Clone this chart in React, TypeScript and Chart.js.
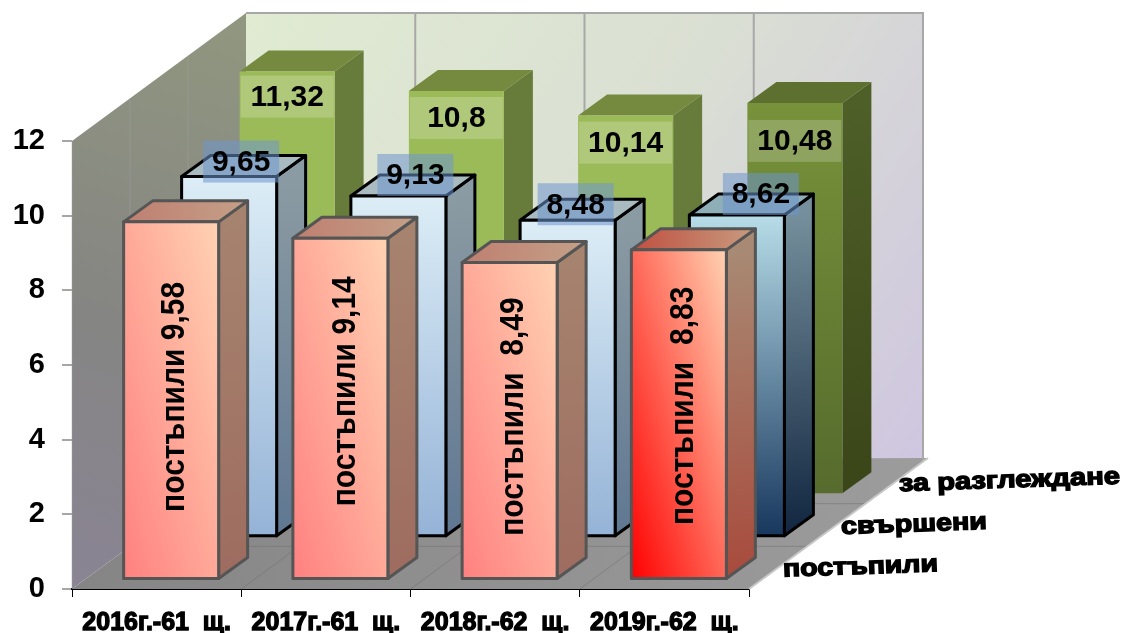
import React, { useEffect, useRef } from "react";
import { Chart, registerables } from "chart.js";

Chart.register(...registerables);

const categories = ["2016г.-61  щ.", "2017г.-61  щ.", "2018г.-62  щ.", "2019г.-62  щ."];
const seriesNames = ["постъпили", "свършени", "за разглеждане"];
const received = [9.58, 9.14, 8.49, 8.83];
const completed = [9.65, 9.13, 8.48, 8.62];
const underReview = [11.32, 10.8, 10.14, 10.48];

// projection of the depth axis on the picture (px for the full floor depth)
const FLOOR_DX = 174;
const FLOOR_DY = -128;
const BAR_DX = 29;
const BAR_DY = -21;
const LEAD_DX = 14.5;
const LEAD_DY = -9.5;
const FONT = '"Liberation Sans", Arial, sans-serif';

type Stops = [string, string];
type BarLook = { front: Stops; side: Stops; top: Stops; diagonal: boolean; stroke: string; lw: number };

const receivedLook: BarLook = { front: ["#ff8080", "#ffd2b2"], side: ["#a6836e", "#9e6c60"], top: ["#bf7f70", "#c4a088"], diagonal: true, stroke: "#555555", lw: 3 };
const receivedLast: BarLook = { front: ["#ff0000", "#ffd2b2"], side: ["#a88a74", "#a84a3c"], top: ["#c04f40", "#c89c80"], diagonal: true, stroke: "#555555", lw: 3 };
const completedLook: BarLook = { front: ["#dcedf6", "#95b3d7"], side: ["#8b9ba3", "#5f7792"], top: ["#a9bac0", "#a9bac0"], diagonal: false, stroke: "#000000", lw: 3 };
const completedLast: BarLook = { front: ["#b7dde8", "#17375d"], side: ["#758f9c", "#10253f"], top: ["#8eaeb8", "#8eaeb8"], diagonal: false, stroke: "#000000", lw: 3 };
const reviewLook: BarLook = { front: ["#9bbb59", "#9bbb59"], side: ["#677b3a", "#677b3a"], top: ["#75893f", "#75893f"], diagonal: false, stroke: "", lw: 0 };
const reviewLast: BarLook = { front: ["#77923a", "#566b2d"], side: ["#4e5f28", "#3a4518"], top: ["#5e7030", "#5e7030"], diagonal: false, stroke: "", lw: 0 };

const looks = [
  [receivedLook, receivedLook, receivedLook, receivedLast],
  [completedLook, completedLook, completedLook, completedLast],
  [reviewLook, reviewLook, reviewLook, reviewLast],
];
// label offsets from the bar's centre / top, as placed by hand in the source
const receivedLabelOff = [[4, 175], [5, 153], [4, 154], [5, 156]];
const completedLabelOff = [[12, -15], [17, -21], [8, -16], [24, -21]];
const reviewLabelOff = [[0, 25], [0, 27], [0, 27], [0, 38]];
const receivedSpacing = ["", "", " ", " "];

const fmt = (v: number) => String(v).replace(".", ",");

function poly(ctx: CanvasRenderingContext2D, pts: number[][], fill: any) {
  ctx.beginPath();
  pts.forEach((p, i) => (i ? ctx.lineTo(p[0], p[1]) : ctx.moveTo(p[0], p[1])));
  ctx.closePath();
  ctx.fillStyle = fill;
  ctx.fill();
}

function drawBox(ctx: CanvasRenderingContext2D, x0: number, x1: number, top: number, base: number, look: BarLook) {
  const w = x1 - x0;
  const h = base - top;
  let fg;
  if (look.diagonal) {
    const L = Math.hypot(w, h);
    const t = (2 * w * h) / L;
    fg = ctx.createLinearGradient(x0, base, x0 + (h / L) * t, base - (w / L) * t);
  } else {
    fg = ctx.createLinearGradient(0, top, 0, base);
  }
  fg.addColorStop(0, look.front[0]);
  fg.addColorStop(1, look.front[1]);
  const sg = ctx.createLinearGradient(x1, top, x1 + BAR_DX, base);
  sg.addColorStop(0, look.side[0]);
  sg.addColorStop(1, look.side[1]);
  const tg = ctx.createLinearGradient(x0, top, x1 + BAR_DX, top);
  tg.addColorStop(0, look.top[0]);
  tg.addColorStop(1, look.top[1]);
  const frontPts = [[x0, top], [x1, top], [x1, base], [x0, base]];
  const sidePts = [[x1, top], [x1 + BAR_DX, top + BAR_DY], [x1 + BAR_DX, base + BAR_DY], [x1, base]];
  const topPts = [[x0, top], [x0 + BAR_DX, top + BAR_DY], [x1 + BAR_DX, top + BAR_DY], [x1, top]];
  [[sidePts, sg], [topPts, tg], [frontPts, fg]].forEach(([pts, fill]: any) => {
    poly(ctx, pts, fill);
    if (look.lw) {
      ctx.strokeStyle = look.stroke;
      ctx.lineWidth = look.lw;
      ctx.lineJoin = "round";
      ctx.stroke();
    }
  });
}

const walls3d = {
  id: "walls3d",
  beforeDatasetsDraw(chart: any) {
    const { ctx, scales } = chart;
    const xs = scales.x;
    const ys = scales.y;
    const l = xs.left;
    const r = xs.right;
    const y0 = ys.getPixelForValue(0);
    const yT = ys.getPixelForValue(12);
    ctx.save();
    // left wall
    const lg = ctx.createLinearGradient(l + FLOOR_DX, yT + FLOOR_DY, l, y0);
    lg.addColorStop(0, "#91977f");
    lg.addColorStop(0.55, "#858583");
    lg.addColorStop(1, "#8a8494");
    poly(ctx, [[l, yT], [l + FLOOR_DX, yT + FLOOR_DY], [l + FLOOR_DX, y0 + FLOOR_DY], [l, y0]], lg);
    // back wall
    const bg = ctx.createLinearGradient(l + FLOOR_DX, yT + FLOOR_DY, r + FLOOR_DX, y0 + FLOOR_DY);
    bg.addColorStop(0, "#e0ebd2");
    bg.addColorStop(0.5, "#dadfd3");
    bg.addColorStop(1, "#cfc6e0");
    poly(ctx, [[l + FLOOR_DX, yT + FLOOR_DY], [r + FLOOR_DX, yT + FLOOR_DY], [r + FLOOR_DX, y0 + FLOOR_DY], [l + FLOOR_DX, y0 + FLOOR_DY]], bg);
    // floor
    const fg = ctx.createLinearGradient(l, 0, r + FLOOR_DX, 0);
    fg.addColorStop(0, "#858585");
    fg.addColorStop(1, "#9c9c9c");
    poly(ctx, [[l, y0], [r, y0], [r + FLOOR_DX + 5, y0 + FLOOR_DY - 3], [l + FLOOR_DX, y0 + FLOOR_DY]], fg);

    const n = categories.length;
    const cell = (r - l) / n;
    ctx.lineWidth = 2;
    // back wall edges and verticals
    ctx.strokeStyle = "#a8a8a8";
    ctx.beginPath();
    ctx.moveTo(l + FLOOR_DX, yT + FLOOR_DY);
    ctx.lineTo(r + FLOOR_DX, yT + FLOOR_DY);
    ctx.lineTo(r + FLOOR_DX, y0 + FLOOR_DY);
    for (let i = 1; i < n; i++) {
      ctx.moveTo(l + FLOOR_DX + cell * i, yT + FLOOR_DY);
      ctx.lineTo(l + FLOOR_DX + cell * i, y0 + FLOOR_DY);
    }
    ctx.stroke();
    // left wall verticals
    ctx.lineWidth = 1;
    ctx.strokeStyle = "rgba(160,160,160,0.45)";
    ctx.beginPath();
    for (let k = 1; k < 3; k++) {
      const dx = (FLOOR_DX * k) / 3;
      const dy = (FLOOR_DY * k) / 3;
      ctx.moveTo(l + dx, yT + dy);
      ctx.lineTo(l + dx, y0 + dy);
    }
    ctx.moveTo(l, yT);
    ctx.lineTo(l, y0);
    ctx.stroke();
    // floor lines
    ctx.strokeStyle = "rgba(110,110,110,0.5)";
    ctx.beginPath();
    for (let i = 1; i < n; i++) {
      ctx.moveTo(l + cell * i, y0);
      ctx.lineTo(l + cell * i + FLOOR_DX, y0 + FLOOR_DY);
    }
    for (let k = 1; k < 3; k++) {
      const dx = (FLOOR_DX * k) / 3;
      const dy = (FLOOR_DY * k) / 3;
      ctx.moveTo(l + dx, y0 + dy);
      ctx.lineTo(r + dx, y0 + dy);
    }
    ctx.stroke();
    // right floor edge
    ctx.strokeStyle = "#c8c8c8";
    ctx.lineWidth = 2;
    ctx.beginPath();
    ctx.moveTo(r, y0);
    ctx.lineTo(r + FLOOR_DX + 5, y0 + FLOOR_DY - 3);
    ctx.stroke();
    ctx.restore();
  },
  beforeDatasetDraw(chart: any, args: any) {
    const { ctx } = chart;
    const k = args.index;
    const dx = LEAD_DX + (FLOOR_DX / 3) * k;
    const dy = LEAD_DY + (FLOOR_DY / 3) * k;
    const meta = args.meta;
    ctx.save();
    meta.data.forEach((bar: any, j: number) => {
      const half = bar.width / 2;
      drawBox(ctx, bar.x + dx - half, bar.x + dx + half, bar.y + dy, bar.base + dy, looks[k][j]);
    });
    ctx.restore();
    return false;
  },
  afterDatasetsDraw(chart: any) {
    const { ctx } = chart;
    ctx.save();
    ctx.textAlign = "center";
    ctx.textBaseline = "middle";
    ctx.fillStyle = "#000";
    ctx.strokeStyle = "#000";
    // series 3, then series 2: value boxes with translucent fill
    const boxed = (k: number, values: number[], off: number[][], fill: string, bw: number) => {
      const dx = LEAD_DX + (FLOOR_DX / 3) * k;
      const dy = LEAD_DY + (FLOOR_DY / 3) * k;
      chart.getDatasetMeta(k).data.forEach((bar: any, j: number) => {
        const cx = bar.x + dx + off[j][0];
        const cy = bar.y + dy + off[j][1];
        ctx.fillStyle = fill;
        ctx.fillRect(cx - bw / 2, cy - 21, bw, 42);
        ctx.fillStyle = "#000";
        ctx.font = `bold 30px ${FONT}`;
        ctx.fillText(fmt(values[j]), cx, cy + 1);
      });
    };
    boxed(2, underReview, reviewLabelOff, "rgba(255,255,255,0.2)", 93);
    boxed(1, completed, completedLabelOff, "rgba(110,150,205,0.55)", 76);
    // front series, rotated
    chart.getDatasetMeta(0).data.forEach((bar: any, j: number) => {
      ctx.save();
      ctx.translate(bar.x + LEAD_DX + receivedLabelOff[j][0], bar.y + LEAD_DY + receivedLabelOff[j][1]);
      ctx.rotate(-Math.PI / 2);
      ctx.scale(1, 1.12);
      ctx.font = `bold 30px ${FONT}`;
      ctx.fillStyle = "#000";
      ctx.fillText(seriesNames[0] + " " + receivedSpacing[j] + fmt(received[j]), 0, 0);
      ctx.restore();
    });
    // depth axis labels
    const xs = chart.scales.x;
    const y0 = chart.scales.y.getPixelForValue(0);
    seriesNames.forEach((name, k) => {
      const widths = [155, 146, 221];
      const px = xs.right + 34 + (FLOOR_DX / 3) * k;
      const py = y0 - 19 + (FLOOR_DY / 3) * k;
      ctx.save();
      ctx.translate(px, py);
      ctx.rotate((-2 * Math.PI) / 180);
      ctx.font = `bold 24px ${FONT}`;
      ctx.textAlign = "left";
      const m = ctx.measureText(name).width;
      ctx.scale(widths[k] / m, 1);
      ctx.lineWidth = 1.4;
      ctx.strokeText(name, 0, 0);
      ctx.fillText(name, 0, 0);
      ctx.restore();
    });
    ctx.restore();
  },
};

export default function App() {
  const ref = useRef<HTMLCanvasElement>(null);
  useEffect(() => {
    const chart = new Chart(ref.current as HTMLCanvasElement, {
      type: "bar",
      data: {
        labels: categories,
        datasets: [
          { label: seriesNames[0], data: received, backgroundColor: "#ff8080" },
          { label: seriesNames[1], data: completed, backgroundColor: "#95b3d7" },
          { label: seriesNames[2], data: underReview, backgroundColor: "#9bbb59" },
        ],
      },
      options: {
        responsive: false,
        animation: false,
        layout: { padding: { top: 141, right: 372, left: 0, bottom: 0 } },
        plugins: { legend: { display: false }, title: { display: false }, tooltip: { enabled: false } },
        datasets: { bar: { grouped: false, barThickness: 95 } },
        scales: {
          x: {
            offset: true,
            afterFit: (s: any) => { s.height = 44; },
            border: { display: true, color: "#000", width: 2 },
            grid: { offset: true, drawOnChartArea: false, drawTicks: true, tickLength: 8, color: "#000" },
            ticks: {
              color: "#000",
              padding: 11,
              maxRotation: 0,
              autoSkip: false,
              font: { family: FONT, size: 25, weight: "bold" },
              textStrokeColor: "#000",
              textStrokeWidth: 1.3,
            },
          },
          y: {
            min: 0,
            max: 12,
            afterFit: (s: any) => { s.width = 72; },
            border: { display: false },
            grid: { drawOnChartArea: false, drawTicks: true, tickLength: 10, color: "#a6a6a6", lineWidth: 2 },
            ticks: { stepSize: 2, color: "#000", padding: 17, font: { family: FONT, size: 29, weight: "bold" } },
          },
        },
      },
      plugins: [walls3d],
    } as any);
    return () => chart.destroy();
  }, []);
  return (
    <div style={{ position: "absolute", left: 0, top: 0, width: 1121, height: 633, overflow: "hidden", background: "#fff" }}>
      <canvas ref={ref} width={1121} height={633} style={{ display: "block" }} />
    </div>
  );
}
